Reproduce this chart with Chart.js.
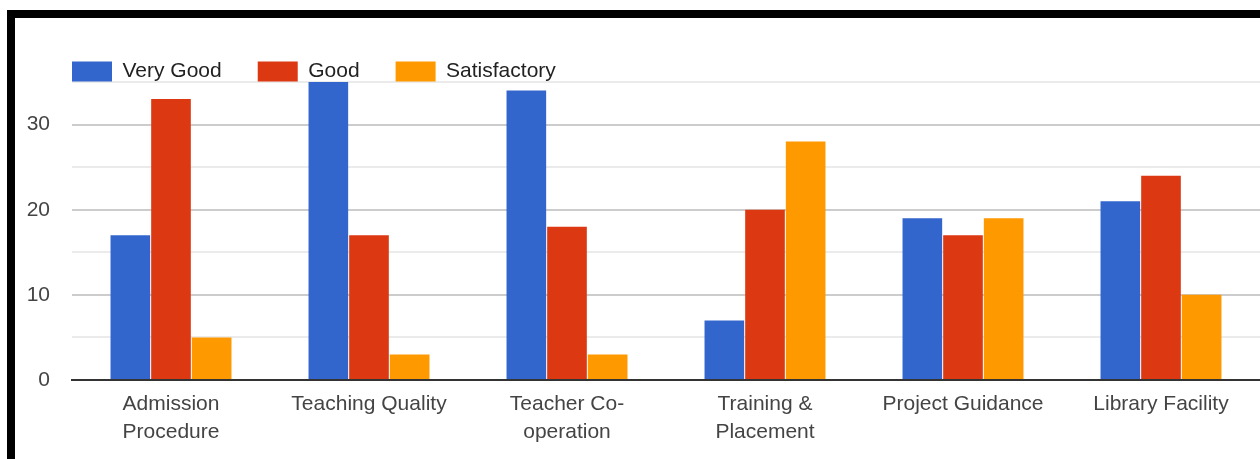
<!DOCTYPE html>
<html>
<head>
<meta charset="utf-8">
<script src="https://cdn.jsdelivr.net/npm/chart.js@4/dist/chart.umd.min.js"></script>
<style>
    html, body { margin: 0; padding: 0; background: #fff; overflow: hidden; }
    #frame {
        position: absolute;
        left: 7px;
        top: 10px;
        width: 1300px;
        height: 500px;
        border-left: 8px solid #000;
        border-top: 8px solid #000;
    }
    #wrap {
        position: absolute;
        left: 15px;
        top: 18px;
        width: 1245px;
        height: 441px;
    }
</style>
</head>
<body>
<div id="frame"></div>
<div id="wrap"><canvas id="feedbackChart" width="1245" height="441"></canvas></div>
<script>
    // Chart data
    const categories = [
        ['Admission', 'Procedure'],
        'Teaching Quality',
        ['Teacher Co-', 'operation'],
        ['Training &', 'Placement'],
        'Project Guidance',
        'Library Facility'
    ];
    const veryGood = [17, 35, 34, 7, 19, 21];
    const good = [33, 17, 18, 20, 17, 24];
    const satisfactory = [5, 3, 3, 28, 19, 10];
    const yLabels = [0, 10, 20, 30];

    const fontFamily = 'Arial, "Liberation Sans", sans-serif';

    // Legend takes no room in the layout; place it over the plot top-left like the original
    const legendShift = {
        id: 'legendShift',
        beforeLayout(chart) {
            const lg = chart.legend;
            if (lg && !lg._patched) {
                const fit = lg.fit.bind(lg);
                lg.fit = function () {
                    fit();
                    this.height = 0;
                };
                lg._patched = true;
            }
        },
        afterLayout(chart) {
            const pad = chart.options.plugins.legend.labels.padding;
            chart.legend.left = chart.chartArea.left - pad;
            chart.legend.top = 43 - pad;
        }
    };

    const ctx = document.getElementById('feedbackChart').getContext('2d');
    new Chart(ctx, {
        type: 'bar',
        data: {
            labels: categories,
            datasets: [
                { label: 'Very Good', data: veryGood, backgroundColor: '#3366cc' },
                { label: 'Good', data: good, backgroundColor: '#dc3912' },
                { label: 'Satisfactory', data: satisfactory, backgroundColor: '#ff9900' }
            ]
        },
        options: {
            responsive: false,
            animation: false,
            layout: { padding: { top: 64, left: 0, right: 0, bottom: 0 } },
            datasets: {
                bar: { categoryPercentage: 0.616, barPercentage: 0.975, borderWidth: 0 }
            },
            plugins: {
                tooltip: { enabled: false },
                legend: {
                    position: 'top',
                    align: 'start',
                    labels: {
                        boxWidth: 40,
                        boxHeight: 20,
                        padding: 36,
                        color: '#222',
                        font: { family: fontFamily, size: 21 }
                    }
                }
            },
            scales: {
                x: {
                    grid: { display: false, drawTicks: false },
                    border: { color: '#333', width: 2 },
                    ticks: {
                        color: '#444',
                        padding: 10,
                        maxRotation: 0,
                        autoSkip: false,
                        font: { family: fontFamily, size: 21, lineHeight: 1.333 }
                    },
                    afterFit: s => { s.height = 79; s.paddingLeft = 0; s.paddingRight = 0; }
                },
                y: {
                    min: 0,
                    max: 35,
                    border: { display: false },
                    grid: {
                        drawTicks: false,
                        color: c => c.tick.value === 0 ? 'rgba(0,0,0,0)' : (c.tick.value % 10 === 0 ? '#cccccc' : '#ebebeb'),
                        lineWidth: 2
                    },
                    ticks: {
                        stepSize: 5,
                        color: '#444',
                        padding: 22,
                        font: { family: fontFamily, size: 21 },
                        callback: v => yLabels.includes(v) ? String(v) : ''
                    },
                    afterFit: s => { s.width = 57; s.paddingTop = 0; s.paddingBottom = 0; }
                }
            }
        },
        plugins: [legendShift]
    });
</script>
</body>
</html>
